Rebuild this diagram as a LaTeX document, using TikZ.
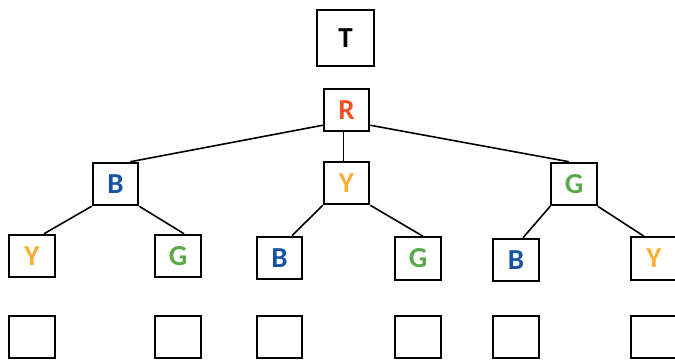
\documentclass[tikz,border=0pt]{standalone}
\usepackage{fontspec}
\setmainfont{Carlito}
\definecolor{cR}{HTML}{EF5127}
\definecolor{cB}{HTML}{1553A3}
\definecolor{cY}{HTML}{FBB034}
\definecolor{cG}{HTML}{59A947}
\begin{document}
\begin{tikzpicture}[x=1pt,y=-1pt,
  box/.style={draw=black, line width=2pt, minimum width=45.5pt, minimum height=42.5pt, inner sep=0pt,
    font=\fontsize{29}{29}\selectfont\bfseries},
  link/.style={line width=1.6pt}]
\useasboundingbox (0,0) rectangle (675,361);
\clip (0,0) rectangle (675,361);
% root
\node[box, minimum width=57.5pt, minimum height=56.5pt] (T) at (345.5,38) {T};
\node[box, text=cR] (R) at (346.5,110) {R};
% level 2
\node[box, text=cB] (B) at (115.5,184) {B};
\node[box, text=cY] (Ym) at (346.5,183) {Y};
\node[box, text=cG] (G) at (574,184) {G};
% level 3
\node[box, text=cY] (Y1) at (32,256) {Y};
\node[box, text=cG] (G1) at (178,256) {G};
\node[box, text=cB] (B2) at (279.5,258) {B};
\node[box, text=cG] (G2) at (418,258.5) {G};
\node[box, text=cB] (B3) at (516,260) {B};
\node[box, text=cY] (Y3) at (654,258.5) {Y};
% empty boxes
\node[box] (E1) at (32,337) {};
\node[box] (E2) at (178,337) {};
\node[box] (E3) at (279.5,337) {};
\node[box] (E4) at (418,337) {};
\node[box] (E5) at (516,337) {};
\node[box] (E6) at (654,337) {};
% connectors
\draw[link] ([yshift=7pt]R.south west) -- ([xshift=-9pt]B.north east);
\draw[link] ([yshift=7pt]R.south east) -- ([xshift=-5pt]G.north);
\draw[link] ([xshift=-3pt]R.south) -- ([xshift=-3pt]Ym.north);
\draw[link] (B.south west) -- ([xshift=12pt]Y1.north);
\draw[link] (B.south east) -- ([xshift=6pt]G1.north);
\draw[link] (Ym.south west) -- ([xshift=12.5pt]B2.north);
\draw[link] (Ym.south east) -- ([xshift=5pt]G2.north);
\draw[link] (G.south west) -- ([xshift=7pt]B3.north);
\draw[link] (G.south east) -- ([xshift=-10pt]Y3.north);
\end{tikzpicture}
\end{document}
